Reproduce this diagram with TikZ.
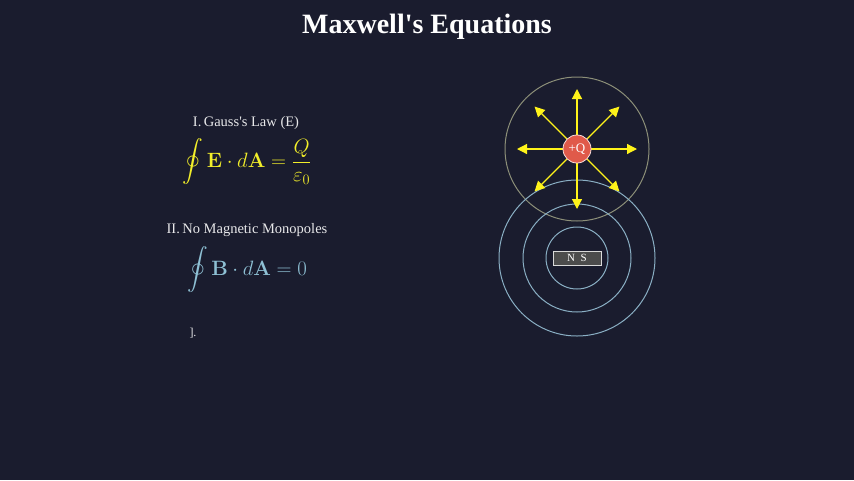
\documentclass[tikz,border=0pt]{standalone}
\usepackage{amsmath}
\usepackage[no-math]{fontspec}
\setmainfont{Liberation Serif}
\usetikzlibrary{arrows.meta,calc}
\definecolor{bg}{HTML}{1A1C2E}
\definecolor{ey}{HTML}{F2EE2A}
\definecolor{bc}{HTML}{8EC0D4}
\definecolor{gc}{HTML}{8C8F78}
\definecolor{mc}{HTML}{8AAFC4}
\definecolor{qr}{HTML}{E05A4A}
\begin{document}
\begin{tikzpicture}[x=1pt,y=-1pt,
  lbl/.style={text=white!90!bg,font=\fontsize{14.5}{17}\selectfont,inner sep=0},
  eq/.style={font=\fontsize{20}{24}\selectfont,inner sep=0},
  farrow/.style={draw=yellow!90!white,line width=1.2pt,-{Triangle[length=10pt,width=10pt]}},
  fline/.style={circle,draw,line width=1pt,inner sep=0}]
\fill[bg] (0,0) rectangle (854,480);
\useasboundingbox (0,0) rectangle (854,480);
\node[text=white,font=\bfseries\fontsize{28}{32}\selectfont] (title) at (427,27) {Maxwell\textquotesingle s Equations};
\node[lbl] (l1) at (246,123) {I.\,Gauss\textquotesingle s Law (E)};
\node[eq,text=ey] (e1) at (247,162) {$\displaystyle\oint \mathbf{E}\cdot d\mathbf{A} = \frac{Q}{\varepsilon_0}$};
\node[lbl] (l2) at (247,230) {II.\,No Magnetic Monopoles};
\node[eq,text=bc] (e2) at (247,270) {$\displaystyle\oint \mathbf{B}\cdot d\mathbf{A} = 0$};
\node[lbl,font=\fontsize{12}{14}\selectfont] (l3) at (193,333) {].};
\node[fline,draw=gc,minimum size=144pt] (gs) at (577,149) {};
\node[fline,draw=mc,minimum size=156pt] (m3) at (577,258) {};
\node[fline,draw=mc,minimum size=108pt] (m2) at (577,258) {};
\node[fline,draw=mc,minimum size=62pt] (m1) at (577,258) {};
\node[draw=white!70!gray,fill=white!30!black,minimum width=48pt,minimum height=14pt,inner sep=0,text=white,font=\fontsize{11}{12}\selectfont] (mag) at (577,258) {N\enspace S};
\foreach \a in {0,45,...,315}{
  \coordinate (s\a) at ($(577,149)+(\a:14)$);
  \coordinate (t\a) at ($(577,149)+(\a:60)$);
  \draw[farrow] (s\a) -- (t\a);
}
\node[circle,fill=qr,draw=white!80!qr,line width=0.8pt,minimum size=28pt,inner sep=0,text=white,font=\fontsize{13}{14}\selectfont] (q) at (577,149) {+Q};
\end{tikzpicture}
\end{document}
